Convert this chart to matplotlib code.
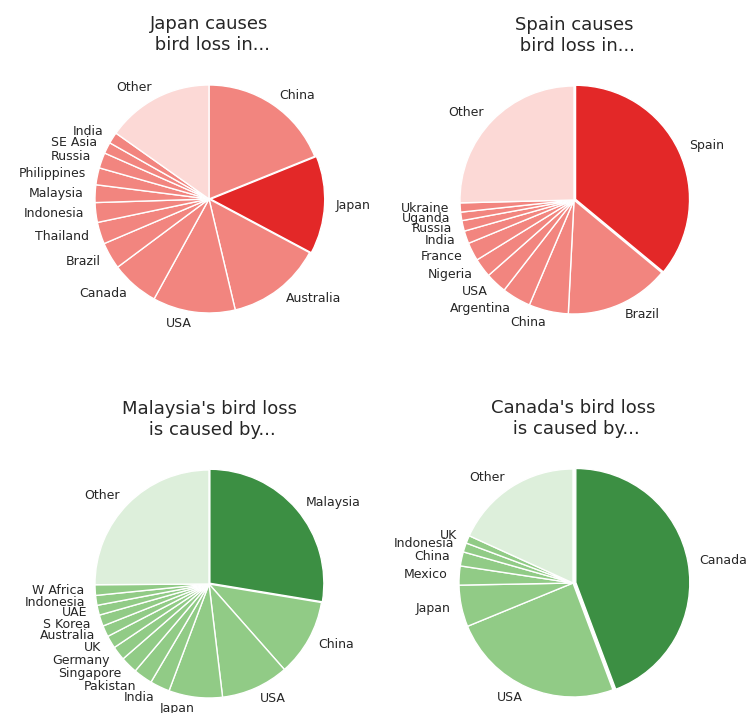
import matplotlib.pyplot as plt

# shares (percent), clockwise from 12 o'clock
japan_labels = ['China', 'Japan', 'Australia', 'USA', 'Canada', 'Brazil', 'Thailand',
                'Indonesia', 'Malaysia', 'Philippines', 'Russia', 'SE Asia', 'India', 'Other']
japan_values = [18.9, 13.9, 13.5, 11.7, 6.8, 3.8, 3.1, 2.8, 2.5, 2.4, 2.2, 1.6, 1.6, 15.2]

spain_labels = ['Spain', 'Brazil', 'China', 'Argentina', 'USA', 'Nigeria', 'France',
                'India', 'Russia', 'Uganda', 'Ukraine', 'Other']
spain_values = [36.0, 14.8, 5.6, 4.1, 3.0, 2.7, 2.6, 1.8, 1.5, 1.2, 1.3, 25.4]

malaysia_labels = ['Malaysia', 'China', 'USA', 'Japan', 'India', 'Pakistan', 'Singapore',
                   'Germany', 'UK', 'Australia', 'S Korea', 'UAE', 'Indonesia', 'W Africa', 'Other']
malaysia_values = [27.6, 10.9, 9.6, 7.6, 2.8, 2.7, 2.4, 2.0, 1.8, 1.6, 1.6, 1.4, 1.4, 1.5, 25.1]

canada_labels = ['Canada', 'USA', 'Japan', 'Mexico', 'China', 'Indonesia', 'UK', 'Other']
canada_values = [44.3, 24.5, 5.9, 2.7, 2.0, 1.3, 1.1, 18.2]

REDS = ('#e32828', '#f2857f', '#fcd9d6')
GREENS = ('#3c8f43', '#91cb86', '#ddefdb')
TEXT = '#262626'

W, H = 748, 713
R = 114  # pie radius in px


def draw_pie(fig, cx, cy, labels, values, highlight, palette, title, pop=0.015):
    half = 1.25 * R
    ax = fig.add_axes([(cx - half) / W, (H - cy - half) / H, 2 * half / W, 2 * half / H])
    colors = []
    explode = []
    for lab in labels:
        if lab == highlight:
            colors.append(palette[0])
            explode.append(pop)
        elif lab == 'Other':
            colors.append(palette[2])
            explode.append(0)
        else:
            colors.append(palette[1])
            explode.append(0)
    ax.pie(values, labels=labels, colors=colors, explode=explode,
           startangle=90, counterclock=False,
           wedgeprops={'edgecolor': 'white', 'linewidth': 1.0},
           textprops={'fontsize': 9, 'color': TEXT})
    ax.set_title(title, fontsize=13, color=TEXT, pad=5)


fig = plt.figure(figsize=(W / 100, H / 100), dpi=100)

draw_pie(fig, 209, 199, japan_labels, japan_values, 'Japan', REDS,
         'Japan causes\n bird loss in...')
draw_pie(fig, 574, 200, spain_labels, spain_values, 'Spain', REDS,
         'Spain causes\n bird loss in...')
draw_pie(fig, 209, 584, malaysia_labels, malaysia_values, 'Malaysia', GREENS,
         "Malaysia's bird loss\n is caused by...", pop=0.01)
draw_pie(fig, 573, 583, canada_labels, canada_values, 'Canada', GREENS,
         "Canada's bird loss\n is caused by...", pop=0.025)

fig.savefig('out.png', dpi=100)
